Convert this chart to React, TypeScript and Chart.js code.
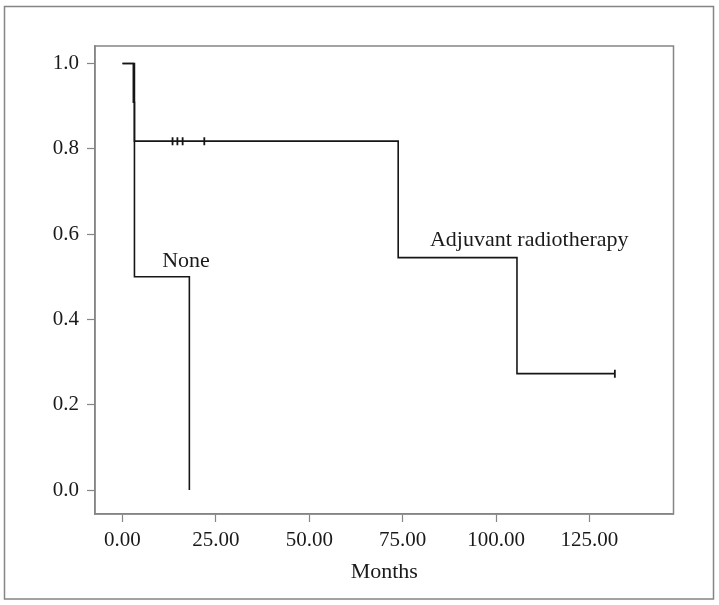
import React, { useEffect, useRef } from "react";
import { Chart, registerables } from "chart.js";

Chart.register(...registerables);

// Kaplan–Meier steps (months, survival)
const adjuvantMonths = [0, 2.9, 3.2, 73.8, 105.6, 131.8];
const adjuvantSurvival = [1.0, 0.909, 0.818, 0.545, 0.273, 0.273];
const noneMonths = [0, 3.2, 17.9];
const noneSurvival = [1.0, 0.5, 0.0];
// censored observations
const adjuvantCensorMonths = [13.4, 14.7, 16.1, 21.9, 131.8];
const adjuvantCensorSurvival = [0.818, 0.818, 0.818, 0.818, 0.273];

const xTicks = [0, 25, 50, 75, 100, 125];
const yTicks = [0, 0.2, 0.4, 0.6, 0.8, 1.0];
const xTitle = "Months";
const curveLabels = ["None", "Adjuvant radiotherapy"];

const FONT = "'Liberation Serif', 'Times New Roman', serif";
const LINE = "#161616";
const FRAME = "#858585";

const framePlugin = {
  id: "framePlugin",
  beforeDraw(chart: any) {
    const { ctx, width, height } = chart;
    ctx.save();
    ctx.fillStyle = "#ffffff";
    ctx.fillRect(0, 0, width, height);
    ctx.strokeStyle = FRAME;
    ctx.lineWidth = 1.5;
    ctx.strokeRect(4.5, 6.5, 709, 592.5);
    ctx.restore();
  },
  afterDraw(chart: any) {
    const { ctx, chartArea, scales } = chart;
    ctx.save();
    ctx.strokeStyle = FRAME;
    ctx.lineWidth = 1.5;
    ctx.strokeRect(chartArea.left, chartArea.top, chartArea.right - chartArea.left, chartArea.bottom - chartArea.top);
    ctx.fillStyle = "#1a1a1a";
    ctx.font = "22px " + FONT;
    ctx.textBaseline = "alphabetic";
    ctx.textAlign = "center";
    ctx.fillText(curveLabels[0], scales.x.getPixelForValue(17.0), scales.y.getPixelForValue(0.524));
    ctx.textAlign = "left";
    ctx.fillText(curveLabels[1], scales.x.getPixelForValue(82.3), scales.y.getPixelForValue(0.573));
    ctx.restore();
  },
};

export default function App() {
  const ref = useRef<HTMLCanvasElement>(null);
  useEffect(() => {
    if (!ref.current) return;
    const toPts = (xs: number[], ys: number[]) => xs.map((x, i) => ({ x, y: ys[i] }));
    const chart = new Chart(ref.current, {
      type: "line",
      data: {
        datasets: [
          {
            label: "Adjuvant radiotherapy",
            data: toPts(adjuvantMonths, adjuvantSurvival),
            stepped: "before",
            borderColor: LINE,
            borderWidth: 1.6,
            pointRadius: 0,
            fill: false,
          },
          {
            label: "None",
            data: toPts(noneMonths, noneSurvival),
            stepped: "before",
            borderColor: LINE,
            borderWidth: 1.6,
            pointRadius: 0,
            fill: false,
          },
          {
            type: "scatter",
            label: "Censored",
            data: toPts(adjuvantCensorMonths, adjuvantCensorSurvival),
            pointStyle: "line",
            rotation: 90,
            pointRadius: 4,
            borderColor: LINE,
            borderWidth: 1.8,
            showLine: false,
          } as any,
        ],
      },
      options: {
        responsive: false,
        animation: false,
        layout: { padding: { left: 0, right: 45.5, top: 46, bottom: 0 } },
        plugins: { legend: { display: false }, tooltip: { enabled: false } },
        scales: {
          x: {
            type: "linear",
            min: -7.36,
            max: 147.5,
            afterBuildTicks: (s: any) => {
              s.ticks = xTicks.map((v) => ({ value: v }));
            },
            afterFit: (s: any) => {
              s.height = 91;
            },
            grid: {
              display: true,
              drawOnChartArea: false,
              drawTicks: true,
              tickLength: 8,
              tickColor: FRAME,
              tickWidth: 1.2,
            },
            border: { display: true, color: FRAME, width: 1.5 },
            ticks: {
              color: "#1a1a1a",
              font: { family: FONT, size: 21 },
              padding: 6,
              maxRotation: 0,
              callback: (v: any) => Number(v).toFixed(2),
            },
            title: {
              display: true,
              text: xTitle,
              color: "#1a1a1a",
              font: { family: FONT, size: 22 },
              padding: { top: 0, bottom: 20 },
            },
          },
          y: {
            type: "linear",
            min: -0.056,
            max: 1.041,
            afterBuildTicks: (s: any) => {
              s.ticks = yTicks.map((v) => ({ value: v }));
            },
            afterFit: (s: any) => {
              s.width = 95;
            },
            grid: {
              display: true,
              drawOnChartArea: false,
              drawTicks: true,
              tickLength: 8,
              tickColor: FRAME,
              tickWidth: 1.2,
            },
            border: { display: true, color: FRAME, width: 1.5 },
            ticks: {
              color: "#1a1a1a",
              font: { family: FONT, size: 21 },
              padding: 8,
              callback: (v: any) => Number(v).toFixed(1),
            },
          },
        },
      },
      plugins: [framePlugin],
    });
    return () => chart.destroy();
  }, []);
  return (
    <div style={{ position: "absolute", left: 0, top: 0, width: 719, height: 605, background: "#fff" }}>
      <canvas ref={ref} width={719} height={605} style={{ display: "block" }} />
    </div>
  );
}
